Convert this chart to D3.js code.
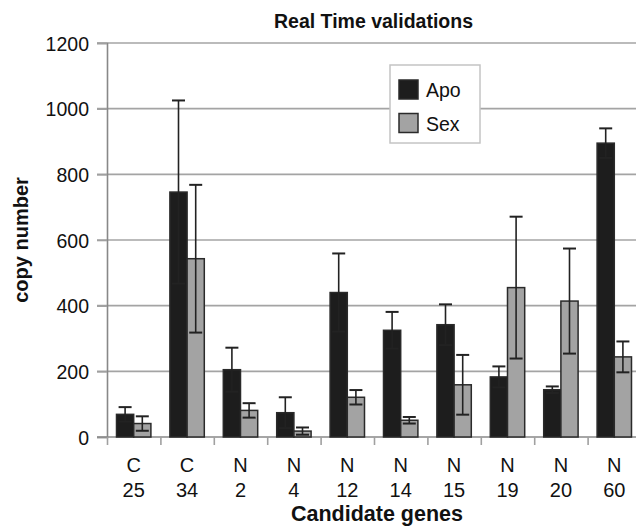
<!DOCTYPE html>
<html>
<head>
<meta charset="utf-8">
<script src="https://cdn.jsdelivr.net/npm/d3@7"></script>
<style>
  html, body { margin: 0; padding: 0; background: #fff; }
  svg { display: block; }
  text { font-family: "Liberation Sans", Arial, sans-serif; fill: #111; }
</style>
</head>
<body>
<div id="chart"></div>
<script>
// ---- data ----
const categories = [["C","25"],["C","34"],["N","2"],["N","4"],["N","12"],["N","14"],["N","15"],["N","19"],["N","20"],["N","60"]];
const seriesNames = ["Apo", "Sex"];
const apoValues = [69, 746, 205, 74, 440, 325, 342, 183, 144, 895];
const apoErrors = [22, 279, 67, 47, 119, 56, 62, 32, 10, 45];
const sexValues = [41, 543, 81, 18, 121, 51, 159, 455, 414, 244];
const sexErrors = [22, 225, 22, 11, 22, 10, 91, 216, 160, 47];
const yTicks = [0, 200, 400, 600, 800, 1000, 1200];
const title = "Real Time validations";
const xTitle = "Candidate genes";
const yTitle = "copy number";

const W = 636, H = 531;
const svg = d3.select("#chart").append("svg").attr("width", W).attr("height", H);

const plot = { left: 107, right: 641, top: 43, bottom: 437 };

const keys = categories.map(d => d.join(" "));
const x0 = d3.scaleBand().domain(keys).range([plot.left, plot.right]).padding(0);
const groupGap = 19;
const x1 = d3.scaleBand().domain(seriesNames).range([groupGap / 2, x0.bandwidth() - groupGap / 2]).padding(0);
const y = d3.scaleLinear().domain([0, 1200]).range([plot.bottom, plot.top]);

const fills = { Apo: "#1d1d1d", Sex: "#a3a3a3" };
const values = { Apo: apoValues, Sex: sexValues };
const errors = { Apo: apoErrors, Sex: sexErrors };

// gridlines
svg.append("g").selectAll("line").data(yTicks.filter(t => t > 0)).join("line")
  .attr("x1", plot.left - 10).attr("x2", plot.right)
  .attr("y1", d => y(d)).attr("y2", d => y(d))
  .attr("stroke", "#a4a4a4").attr("stroke-width", 1.6);

// y axis
const yAxis = d3.axisLeft(y).tickValues(yTicks).tickSize(10).tickPadding(8).tickFormat(d3.format("d"));
const gy = svg.append("g").attr("transform", `translate(${plot.left},0)`).call(yAxis);
gy.select(".domain").attr("stroke", "#888").attr("stroke-width", 1.6);
gy.selectAll(".tick line").attr("stroke", "#a0a0a0").attr("stroke-width", 1.6);
gy.selectAll(".tick text").attr("font-size", 19.5).attr("font-family", "Liberation Sans, Arial, sans-serif").attr("fill", "#111").attr("dy", "0.36em");

// x axis
const xAxis = d3.axisBottom(d3.scaleLinear().domain([0, keys.length]).range([plot.left, plot.right]))
  .tickValues(d3.range(0, keys.length + 1)).tickSize(8).tickFormat("");
const gx = svg.append("g").attr("transform", `translate(0,${plot.bottom})`).call(xAxis);
gx.select(".domain").attr("stroke", "#888").attr("stroke-width", 1.6).attr("d", `M${plot.left - 10},0H${plot.right}`);
gx.selectAll(".tick line").attr("stroke", "#a0a0a0").attr("stroke-width", 1.6);

// x category labels
const lab = svg.append("g").selectAll("text").data(categories).join("text")
  .attr("text-anchor", "middle").attr("font-size", 20)
  .attr("x", d => x0(d.join(" ")) + x0.bandwidth() / 2);
lab.append("tspan").attr("y", 472).attr("x", d => x0(d.join(" ")) + x0.bandwidth() / 2).text(d => d[0]);
lab.append("tspan").attr("y", 497).attr("x", d => x0(d.join(" ")) + x0.bandwidth() / 2).text(d => d[1]);

// bars
const groups = svg.append("g").selectAll("g").data(keys).join("g")
  .attr("transform", d => `translate(${x0(d)},0)`);

groups.selectAll("rect").data((d, i) => seriesNames.map(s => ({ s, v: values[s][i] })))
  .join("rect")
  .attr("x", d => x1(d.s)).attr("width", x1.bandwidth())
  .attr("y", d => y(d.v)).attr("height", d => y(0) - y(d.v))
  .attr("fill", d => fills[d.s]).attr("stroke", "#2a2a2a").attr("stroke-width", 1.5);

// error bars
const capW = 13;
groups.each(function (k, i) {
  const g = d3.select(this);
  seriesNames.forEach(s => {
    const cx = x1(s) + x1.bandwidth() / 2;
    const v = values[s][i], e = errors[s][i];
    const lo = Math.max(0, v - e), hi = v + e;
    g.append("line").attr("x1", cx).attr("x2", cx).attr("y1", y(lo)).attr("y2", y(hi))
      .attr("stroke", "#222").attr("stroke-width", 1.6);
    [hi, lo].forEach(t => {
      if (t <= 0) return;
      g.append("line").attr("x1", cx - capW / 2).attr("x2", cx + capW / 2).attr("y1", y(t)).attr("y2", y(t))
        .attr("stroke", "#222").attr("stroke-width", 2);
    });
  });
});

// legend
const lg = svg.append("g").attr("transform", "translate(390,65)");
lg.append("rect").attr("width", 90).attr("height", 78).attr("fill", "#fff").attr("stroke", "#c4c4c4").attr("stroke-width", 1.5);
seriesNames.forEach((s, i) => {
  lg.append("rect").attr("x", 9).attr("y", 15 + i * 33.5).attr("width", 19).attr("height", 19)
    .attr("fill", fills[s]).attr("stroke", "#2a2a2a").attr("stroke-width", 1.5);
  lg.append("text").attr("x", 36).attr("y", 32 + i * 33.5).attr("font-size", 19.5).text(s);
});

// titles
svg.append("text").attr("x", 373.5).attr("y", 28).attr("text-anchor", "middle")
  .attr("font-size", 19.5).attr("font-weight", "bold").text(title);
svg.append("text").attr("x", 377).attr("y", 521).attr("text-anchor", "middle")
  .attr("font-size", 21.5).attr("font-weight", "bold").text(xTitle);
svg.append("text").attr("transform", "translate(28,240) rotate(-90)").attr("text-anchor", "middle")
  .attr("font-size", 20).attr("font-weight", "bold").text(yTitle);
</script>
</body>
</html>
